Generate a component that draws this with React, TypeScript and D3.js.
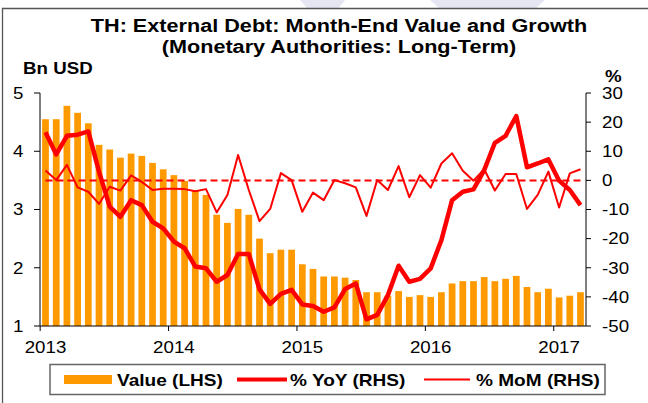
import React from "react";
import * as d3 from "d3";

const months: string[] = d3.range(51).map((i) => {
  const y = 2013 + Math.floor(i / 12);
  const m = (i % 12) + 1;
  return `${y}-${String(m).padStart(2, "0")}`;
});

const valueBn: number[] = [
  4.55, 4.55, 4.78, 4.66, 4.48, 4.11, 4.03, 3.89, 3.96, 3.92,
  3.8, 3.69, 3.59, 3.49, 3.33, 3.25, 2.91, 2.77, 3.01, 2.91,
  2.5, 2.25, 2.31, 2.31, 2.06, 1.98, 1.85, 1.85, 1.83, 1.79,
  1.58, 1.58, 1.52, 1.6, 1.5, 1.53, 1.5, 1.58, 1.73, 1.77,
  1.77, 1.84, 1.77, 1.81, 1.86, 1.67, 1.58, 1.64, 1.49, 1.52, 1.58,
];

const yoyPct: number[] = [
  16.5, 8.9, 15.3, 15.7, 16.8, 3.0, -9.0, -12.5, -6.8, -8.5,
  -14.2, -16.5, -21, -23.3, -29.6, -30.2, -34.8, -32.5, -25.3, -25.3,
  -37.4, -42.4, -39, -37.6, -42.6, -43.1, -45.1, -43.6, -37.3, -35.4,
  -47.7, -46.2, -39.4, -29.3, -34.8, -33.8, -30.2, -20.5, -6.8, -3.9,
  -3.1, 3.5, 12.9, 15.3, 22.1, 4.5, 5.8, 7.2, -0.1, -3.3, -8.5,
];

const momPct: number[] = [
  3.4, 0.1, 5.3, -2.4, -3.9, -8.1, -2.2, -3.5, 1.7, -0.5,
  -3.3, -2.9, -2.9, -3.0, -3.7, -3.0, -11.0, -5.0, 8.7, -3.3,
  -14.0, -9.8, 2.5, 0.1, -10.8, -4.2, -6.8, 0.1, -1.0, -2.4,
  -12.2, 0.1, -3.3, 4.9, -5.8, 1.8, -2.5, 5.8, 9.3, 3.3,
  -0.1, 3.8, -3.5, 2.2, 2.2, -9.8, -5.0, 3.0, -9.3, 2.4, 3.8,
];

const leftTicks: number[] = [1, 2, 3, 4, 5];
const rightTicks: number[] = [-50, -40, -30, -20, -10, 0, 10, 20, 30];
const yearLabels: string[] = ["2013", "2014", "2015", "2016", "2017"];

const SX = 1.17;
const FONT = "'Liberation Sans', Arial, Helvetica, sans-serif";

function SText(props: {
  x: number;
  y: number;
  size: number;
  bold?: boolean;
  anchor?: "start" | "middle" | "end";
  children: React.ReactNode;
}) {
  return (
    <g transform={`translate(${props.x},${props.y}) scale(${SX},1)`}>
      <text
        x={0}
        y={0}
        fontFamily={FONT}
        fontSize={props.size}
        fontWeight={props.bold ? "bold" : "normal"}
        textAnchor={props.anchor || "start"}
        fill="#000"
      >
        {props.children}
      </text>
    </g>
  );
}

export default function App() {
  const W = 648;
  const H = 403;
  const left = 40;
  const right = 586;
  const top = 93;
  const bottom = 326;

  const x = d3
    .scaleBand<number>()
    .domain(d3.range(months.length))
    .range([left, right])
    .paddingInner(0.37)
    .paddingOuter(0.2);
  const bw = x.bandwidth();
  const step = x.step();
  const cx = (i: number) => (x(i) as number) + bw / 2;
  const boundary = (i: number) => (x(i) as number) - (step * 0.37) / 2;

  const yL = d3.scaleLinear().domain([1, 5]).range([bottom, top]);
  const yR = d3.scaleLinear().domain([-50, 30]).range([bottom, top]);

  const lineR = d3
    .line<number>()
    .x((_, i) => cx(i))
    .y((d) => yR(d));

  const zeroSeries = months.map(() => 0);

  return (
    <svg width={W} height={H} style={{ position: "absolute", left: 0, top: 0 }}>
      <rect x={0} y={0} width={W} height={H} fill="#fff" />
      {/* faint watermark */}
      <polygon points="300,0 345,0 338,9 308,9" fill="#e6e6f3" />
      <polygon points="430,0 545,0 535,9 440,9" fill="#e6e6f3" />
      {/* frame */}
      <path d={`M2.5,${H} V8.5 H${W}`} fill="none" stroke="#555" strokeWidth={1.3} />

      {/* titles */}
      <SText x={339} y={32} size={18.5} bold anchor="middle">
        TH: External Debt: Month-End Value and Growth
      </SText>
      <SText x={339} y={53} size={18.5} bold anchor="middle">
        (Monetary Authorities: Long-Term)
      </SText>
      <SText x={23} y={74} size={16} bold>
        Bn USD
      </SText>
      <SText x={605} y={82} size={16} bold>
        %
      </SText>

      {/* bars */}
      {valueBn.map((v, i) => (
        <rect
          key={i}
          x={x(i)}
          y={yL(v)}
          width={bw}
          height={yL(1) - yL(v)}
          fill="#ff9900"
        />
      ))}

      {/* zero dashed line */}
      <path
        d={lineR(zeroSeries) || ""}
        fill="none"
        stroke="#ff0000"
        strokeWidth={2}
        strokeDasharray="7,4"
      />
      {/* YoY thick */}
      <path
        d={lineR(yoyPct) || ""}
        fill="none"
        stroke="#ff0000"
        strokeWidth={4.5}
        strokeLinejoin="round"
      />
      {/* MoM thin */}
      <path
        d={lineR(momPct) || ""}
        fill="none"
        stroke="#ff0000"
        strokeWidth={2}
        strokeLinejoin="round"
      />

      {/* axes */}
      <line x1={left} y1={top} x2={left} y2={bottom} stroke="#000" strokeWidth={1} />
      <line x1={right} y1={top} x2={right} y2={bottom} stroke="#000" strokeWidth={1} />
      <line x1={left} y1={bottom} x2={right} y2={bottom} stroke="#000" strokeWidth={1} />

      {leftTicks.map((t) => (
        <g key={`l${t}`}>
          <line x1={left - 6} x2={left} y1={yL(t)} y2={yL(t)} stroke="#000" />
          <SText x={23.5} y={yL(t) + 5.8} size={16} anchor="end">
            {t}
          </SText>
        </g>
      ))}
      {rightTicks.map((t) => (
        <g key={`r${t}`}>
          <line x1={right} x2={right + 5} y1={yR(t)} y2={yR(t)} stroke="#000" />
          <SText x={602} y={yR(t) + 5.8} size={16}>
            {t}
          </SText>
        </g>
      ))}
      {yearLabels.map((lab, k) => {
        const i = k * 12;
        return (
          <g key={lab}>
            <line x1={boundary(i)} x2={boundary(i)} y1={bottom} y2={bottom + 5} stroke="#000" />
            <SText x={cx(i)} y={353} size={16} anchor="middle">
              {lab}
            </SText>
          </g>
        );
      })}

      {/* legend */}
      <rect x={50} y={364.5} width={555} height={30} fill="#fff" stroke="#666" strokeWidth={1.5} />
      <rect x={64} y={375} width={48} height={9} fill="#ff9900" />
      <SText x={117} y={386} size={16.3} bold>
        Value (LHS)
      </SText>
      <line x1={237} x2={287} y1={379.5} y2={379.5} stroke="#ff0000" strokeWidth={4} />
      <SText x={290} y={386} size={16.3} bold>
        % YoY (RHS)
      </SText>
      <line x1={424} x2={470} y1={379.5} y2={379.5} stroke="#ff0000" strokeWidth={2} />
      <SText x={476} y={386} size={16.3} bold>
        % MoM (RHS)
      </SText>
    </svg>
  );
}
